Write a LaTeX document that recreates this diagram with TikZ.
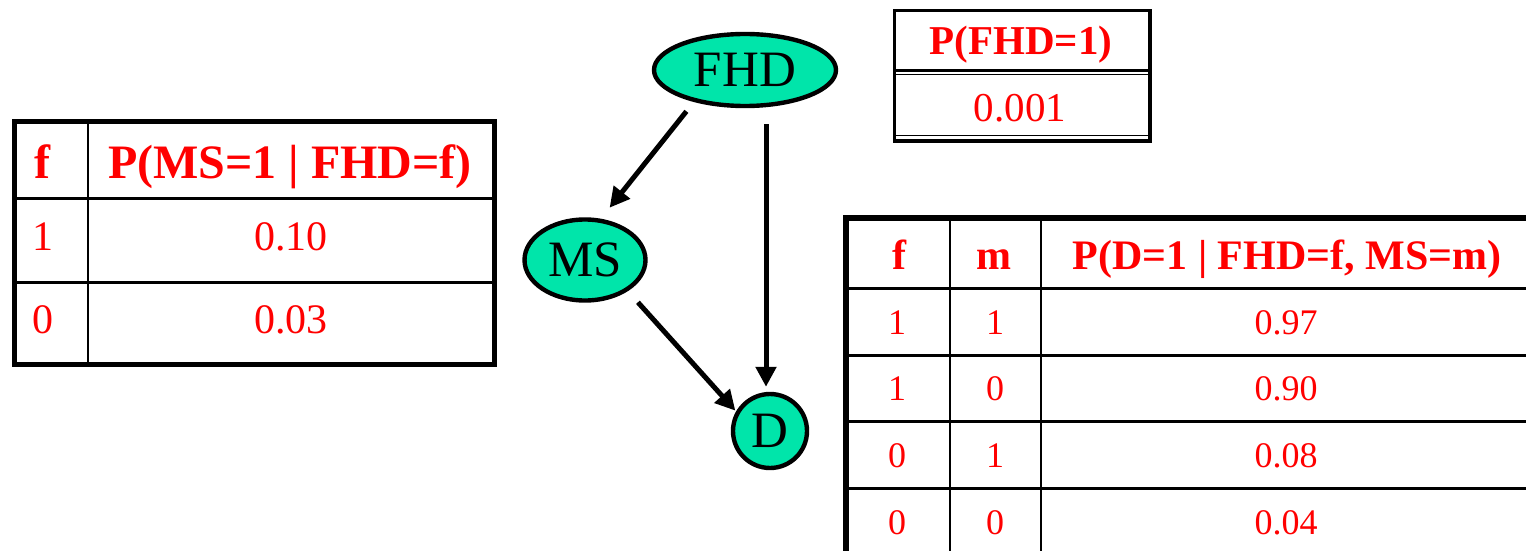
\documentclass[tikz,border=0pt]{standalone}
\usepackage{fontspec}
\setmainfont{Liberation Serif}
\usetikzlibrary{arrows.meta,shapes.geometric}
\definecolor{nodegreen}{RGB}{0,229,170}
\definecolor{cptred}{RGB}{255,0,0}
\begin{document}
\begin{tikzpicture}[x=0.5pt,y=-0.5pt,
  var/.style={draw=black, line width=2.2pt, fill=nodegreen, inner sep=0pt,
    font=\fontsize{25.5pt}{30pt}\selectfont},
  link/.style={line width=2.5pt, -{Triangle[length=10pt,width=10pt]}},
  frame/.style={line width=#1, draw=black},
  cell/.style={text=cptred, anchor=base, inner sep=0pt},
  hdrtop/.style={cell, font=\fontsize{20.5pt}{24pt}\selectfont\bfseries},
  valtop/.style={cell, font=\fontsize{20.5pt}{24pt}\selectfont},
  hdrleft/.style={cell, font=\fontsize{24pt}{28pt}\selectfont\bfseries},
  valleft/.style={cell, font=\fontsize{21pt}{25pt}\selectfont},
  hdrright/.style={cell, font=\fontsize{21pt}{25pt}\selectfont\bfseries},
  valright/.style={cell, font=\fontsize{18pt}{22pt}\selectfont}]
\useasboundingbox (0,0) rectangle (1526,551);

% --- network ---
\node[var, ellipse, minimum width=91pt, minimum height=36pt] (FHD) at (745,70) {FHD};
\node[var, ellipse, minimum width=60.5pt, minimum height=40.5pt] (MS) at (585,260) {MS};
\node[var, circle, minimum size=37pt] (D) at (770,431) {D};

\draw[link, shorten <=6pt, shorten >=7pt] (FHD.212) -- (MS.69);
\draw[link, shorten <=8pt, shorten >=2.5pt] ([xshift=10.5pt]FHD.south) -- ([xshift=-2pt]D.north);
\draw[link, shorten <=7.5pt, shorten >=0.5pt] (MS.-36) -- (D.150);

% --- P(FHD=1) ---
\draw[frame=1.6pt] (894.5,10.5) rectangle (1150,141);
\draw[frame=1.6pt] (894.5,70.5) -- (1150,70.5);
\draw[frame=0.6pt] (894.5,74.5) -- (1150,74.5);
\draw[frame=0.6pt] (894.5,135.5) -- (1150,135.5);
\node[hdrtop] (pfhdH) at (1021,55) {P(FHD=1)};
\node[valtop] (pfhdV) at (1020,122) {0.001};

% --- P(MS=1 | FHD=f) ---
\draw[frame=2.5pt] (14.5,122) rectangle (494.5,364.5);
\draw[frame=1pt] (88,122) -- (88,364.5);
\draw[frame=1.5pt] (14.5,198) -- (494.5,198);
\draw[frame=1.5pt] (14.5,282) -- (494.5,282);
\node[hdrleft] (msHf) at (42,178) {f};
\node[hdrleft] (msHp) at (290,178) {P(MS=1 | FHD=f)};
\node[valleft] (msF1) at (43,250) {1};
\node[valleft] (msV1) at (291,250) {0.10};
\node[valleft] (msF0) at (43,333) {0};
\node[valleft] (msV0) at (291,333) {0.03};

% --- P(D=1 | FHD=f, MS=m) ---
\begin{scope}
\clip (0,0) rectangle (1526,551);
\draw[frame=3pt] (846,218) rectangle (1540,580);
\draw[frame=1.3pt] (950,218) -- (950,580);
\draw[frame=1.3pt] (1041,218) -- (1041,580);
\foreach \y in {288,355,421,488}
  \draw[frame=1.5pt] (846,\y) -- (1540,\y);
\end{scope}
\node[hdrright] (dHf) at (899,269) {f};
\node[hdrright] (dHm) at (994,269) {m};
\node[hdrright] (dHp) at (1287,269) {P(D=1 | FHD=f, MS=m)};
\node[valright] (dF1) at (897,334) {1};
\node[valright] (dM1) at (995,334) {1};
\node[valright] (dV1) at (1286,334) {0.97};
\node[valright] (dF2) at (897,400) {1};
\node[valright] (dM2) at (995,400) {0};
\node[valright] (dV2) at (1286,400) {0.90};
\node[valright] (dF3) at (897,467) {0};
\node[valright] (dM3) at (995,467) {1};
\node[valright] (dV3) at (1286,467) {0.08};
\node[valright] (dF4) at (897,534) {0};
\node[valright] (dM4) at (995,534) {0};
\node[valright] (dV4) at (1286,534) {0.04};
\end{tikzpicture}
\end{document}
